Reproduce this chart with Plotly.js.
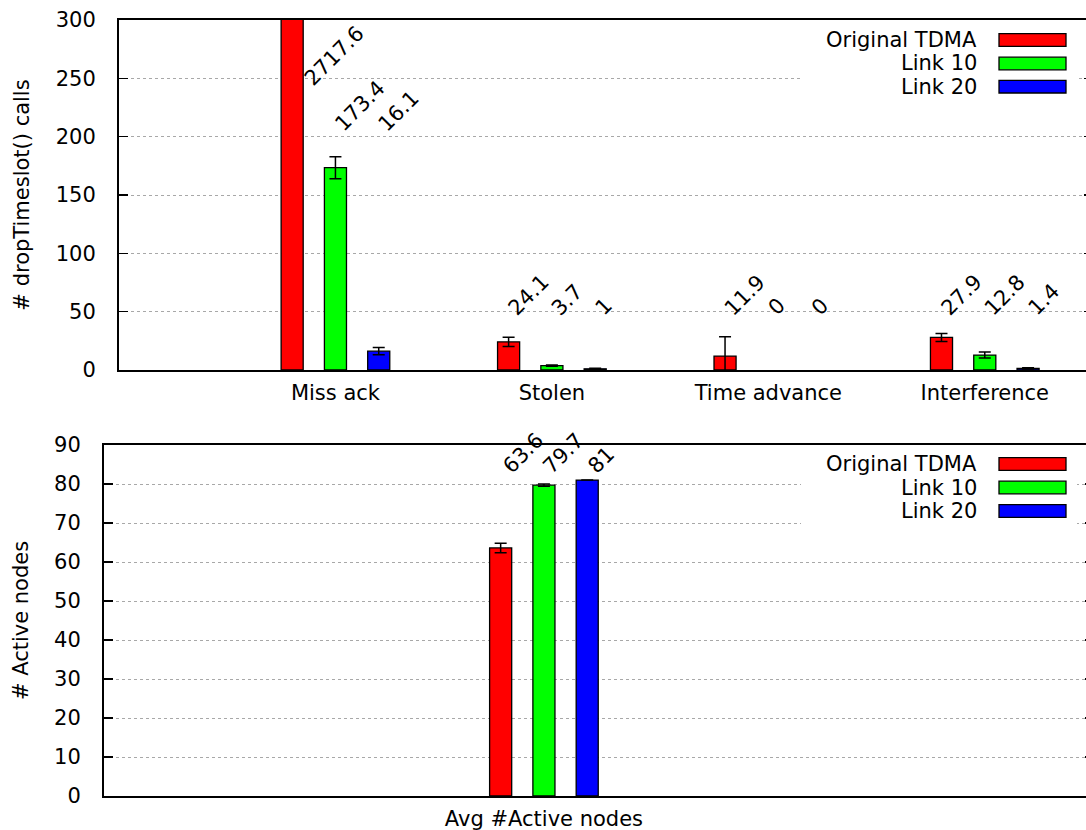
<!DOCTYPE html>
<html><head><meta charset="utf-8">
<script src="https://cdn.plot.ly/plotly-3.0.1.min.js"></script>
<style>html,body{margin:0;padding:0;overflow:hidden;background:#fff}</style>
</head><body><div id="chart" style="width:1100px;height:830px"></div>
<script>
// ---------- data ----------
const seriesNames = ['Original TDMA', 'Link 10', 'Link 20'];
const topCategories = ['Miss ack', 'Stolen', 'Time advance', 'Interference'];
const topOriginal = [2717.6, 24.1, 11.9, 27.9];
const topLink10 = [173.4, 3.7, 0, 12.8];
const topLink20 = [16.1, 1, 0, 1.4];
const topErrOriginal = [0, 4.0, 16.6, 3.4];
const topErrLink10 = [9.4, 0.5, 0, 2.6];
const topErrLink20 = [3.1, 0.5, 0, 0.5];
const bottomCategories = ['Avg #Active nodes'];
const bottomOriginal = [63.6];
const bottomLink10 = [79.7];
const bottomLink20 = [81];
const bottomErrOriginal = [1.2];
const bottomErrLink10 = [0.3];
const bottomErrLink20 = [0];

// ---------- styling / layout ----------
const W = 1100, H = 830;
const FONT = 'DejaVu Sans, sans-serif';
const FS = 21;
const colors = ['#ff0000', '#00ff00', '#0000ff'];
const px = x => x / W;
const py = y => 1 - y / H;

const topVals = [topOriginal, topLink10, topLink20];
const topErrs = [topErrOriginal, topErrLink10, topErrLink20];
const botVals = [bottomOriginal, bottomLink10, bottomLink20];
const botErrs = [bottomErrOriginal, bottomErrLink10, bottomErrLink20];

const traces = [];
function addTraces(cats, vals, errs, xa, ya) {
  vals.forEach((v, i) => {
    traces.push({
      type: 'bar', x: cats, y: v, name: seriesNames[i], xaxis: xa, yaxis: ya,
      showlegend: false, hoverinfo: 'x+y',
      marker: {color: colors[i], line: {color: '#000', width: v.map(d => d === 0 ? 0 : 1.3)}},
      error_y: {type: 'data', array: errs[i].map((e, k) => v[k] === 0 ? NaN : e),
        visible: true, color: '#000', thickness: 1.5, width: 6}
    });
  });
}
addTraces(topCategories, topVals, topErrs, 'x', 'y');
addTraces(bottomCategories, botVals, botErrs, 'x2', 'y2');

// value labels
const annotations = [];
const groupStep = 43.3;
function labelLevelTop(ci, si) {
  if (ci === 0) return si === 0 ? 241.7 : 203;
  return 45.4;
}
topCategories.forEach((c, ci) => {
  topVals.forEach((v, si) => {
    annotations.push({
      xref: 'x', yref: 'y', x: c, y: labelLevelTop(ci, si),
      text: String(v[ci]), showarrow: false, textangle: -45,
      xanchor: 'left', yanchor: 'bottom',
      xshift: (si - 1) * groupStep - 8 + (ci === 0 && si === 0 ? 13 : 0), yshift: -5.5,
      font: {family: FONT, size: FS, color: '#000'}
    });
  });
});
bottomCategories.forEach((c, ci) => {
  botVals.forEach((v, si) => {
    annotations.push({
      xref: 'x2', yref: 'y2', x: c, y: 82.8,
      text: String(v[ci]), showarrow: false, textangle: -45,
      xanchor: 'left', yanchor: 'bottom',
      xshift: (si - 1) * 44.5 - 8 + (si === 0 ? 4 : 0), yshift: -8,
      font: {family: FONT, size: FS, color: '#000'}
    });
  });
});

// custom legends (text left of sample box)
const shapes = [];
function legend(rows, boxBottom, boxTop) {
  shapes.push({type: 'rect', xref: 'paper', yref: 'paper', layer: 'above',
    x0: px(801), x1: px(1077), y0: py(boxBottom), y1: py(boxTop),
    fillcolor: '#fff', line: {width: 0}});
  rows.forEach((ry, i) => {
    shapes.push({type: 'rect', xref: 'paper', yref: 'paper', layer: 'above',
      x0: px(999), x1: px(1066), y0: py(ry + 6.3), y1: py(ry - 6.3),
      fillcolor: colors[i], line: {color: '#000', width: 1.3}});
    annotations.push({xref: 'paper', yref: 'paper', x: px(979), y: py(ry),
      xanchor: 'right', yanchor: 'middle', showarrow: false, text: seriesNames[i],
      font: {family: FONT, size: FS, color: '#000'}});
  });
}
legend([40, 63.5, 86.7], 100, 22);
legend([464, 487.5, 511], 532, 447);

const yCommon = {
  showline: true, linecolor: '#000', linewidth: 2, mirror: 'ticks',
  ticks: 'inside', ticklen: 9, tickwidth: 1.5, tickcolor: '#000',
  showgrid: true, gridcolor: '#a8a8a8', griddash: 'dot', gridwidth: 1,
  zeroline: false, ticklabelstandoff: 17,
  tickfont: {family: FONT, size: FS, color: '#000'}
};
const xCommon = {
  type: 'category', showline: true, linecolor: '#000', linewidth: 2, mirror: true,
  ticks: '', showgrid: false, zeroline: false, ticklabelstandoff: 3,
  tickfont: {family: FONT, size: FS, color: '#000'}
};

const layout = {
  width: W, height: H, margin: {l: 0, r: 0, t: 0, b: 0},
  paper_bgcolor: '#fff', plot_bgcolor: '#fff',
  barmode: 'group', bargap: 0.4, bargroupgap: 0.49,
  font: {family: FONT, size: FS, color: '#000'},
  xaxis: Object.assign({}, xCommon, {domain: [px(119), px(1093)], anchor: 'y', range: [-1, 3.5]}),
  yaxis: Object.assign({}, yCommon, {domain: [py(370), py(20)], anchor: 'x', range: [0, 300], dtick: 50,
    title: {text: '# dropTimeslot() calls', standoff: 20, font: {family: FONT, size: FS, color: '#000'}}}),
  xaxis2: Object.assign({}, xCommon, {domain: [px(104), px(1094)], anchor: 'y2', range: [-2.033, 2.542]}),
  yaxis2: Object.assign({}, yCommon, {domain: [py(796), py(445)], anchor: 'x2', range: [0, 90], dtick: 10,
    title: {text: '# Active nodes', standoff: 20, font: {family: FONT, size: FS, color: '#000'}}}),
  annotations: annotations, shapes: shapes
};

Plotly.newPlot('chart', traces, layout, {displayModeBar: false, staticPlot: true});
</script></body></html>
